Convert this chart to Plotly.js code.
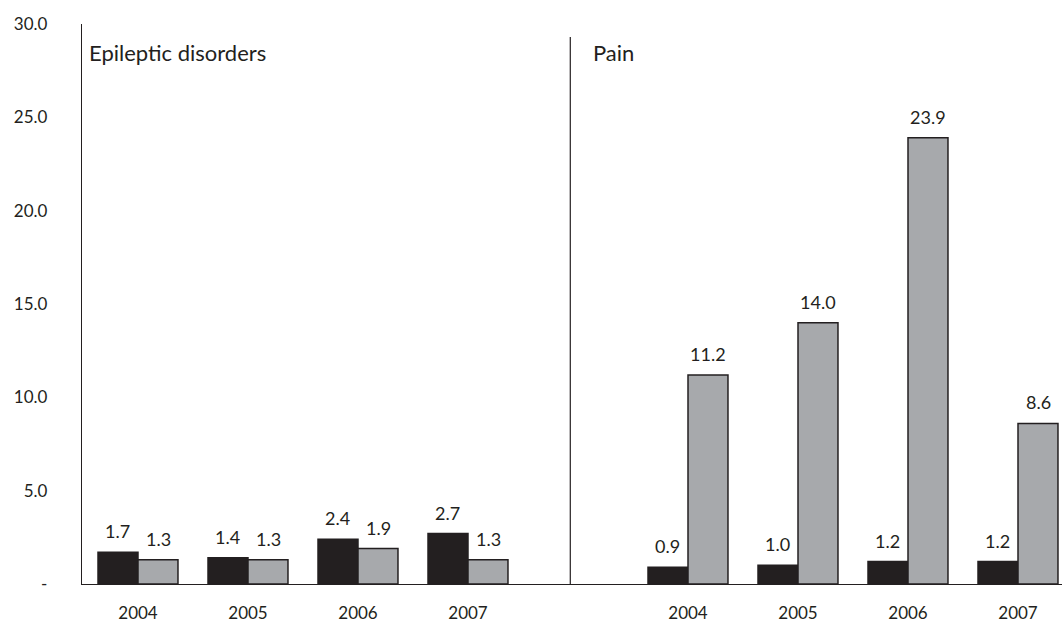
<!DOCTYPE html>
<html>
<head>
<meta charset="utf-8">
<script src="https://cdn.plot.ly/plotly-3.0.1.min.js"></script>
<style>
  html, body { margin: 0; padding: 0; background: #ffffff; }
  #chart { width: 1064px; height: 623px; }
</style>
</head>
<body>
<div id="chart"></div>
<script>
// Years shown under each panel
const years = ['2004', '2005', '2006', '2007'];

// Epileptic disorders panel
const epilepticDark = [1.7, 1.4, 2.4, 2.7];
const epilepticGrey = [1.3, 1.3, 1.9, 1.3];

// Pain panel
const painDark = [0.9, 1.0, 1.2, 1.2];
const painGrey = [11.2, 14.0, 23.9, 8.6];

// Y axis tick labels
const yTickVals = [0, 5, 10, 15, 20, 25, 30];
const yTickText = ['-', '5.0', '10.0', '15.0', '20.0', '25.0', '30.0'];

// Panel titles
const panelTitles = ['Epileptic disorders', 'Pain'];

const DARK = '#231f20';
const GREY = '#a7a9ac';
const FONT = 'Lato, "Open Sans", sans-serif';

// Left panel sits on slots 0..3, right panel on 5..8 (slot 4 left empty)
const leftPos = years.map((_, i) => i);
const rightPos = years.map((_, i) => i + 5);
const positions = leftPos.concat(rightPos);
const darkVals = epilepticDark.concat(painDark);
const greyVals = epilepticGrey.concat(painGrey);

const barLine = { color: DARK, width: 1.5 };

const traces = [
  {
    type: 'bar', x: positions, y: darkVals, name: 'dark',
    marker: { color: DARK, line: barLine },
    hoverinfo: 'y'
  },
  {
    type: 'bar', x: positions, y: greyVals, name: 'grey',
    marker: { color: GREY, line: barLine },
    hoverinfo: 'y'
  }
];

const BAR_OFFSET = 0.182;
const annotations = [];
positions.forEach((p, i) => {
  annotations.push({
    x: p - BAR_OFFSET, y: darkVals[i], xref: 'x', yref: 'y',
    text: darkVals[i].toFixed(1), showarrow: false,
    yanchor: 'middle', yshift: 21,
    font: { family: FONT, size: 18, color: DARK }
  });
  annotations.push({
    x: p + BAR_OFFSET, y: greyVals[i], xref: 'x', yref: 'y',
    text: greyVals[i].toFixed(1), showarrow: false,
    yanchor: 'middle', yshift: 21,
    font: { family: FONT, size: 18, color: DARK }
  });
});

annotations.push({
  x: 0.005, y: 0.95, xref: 'paper', yref: 'paper',
  text: panelTitles[0], showarrow: false, xanchor: 'left', yanchor: 'middle',
  font: { family: FONT, size: 22, color: DARK }
});
annotations.push({
  x: 0.519, y: 0.95, xref: 'paper', yref: 'paper',
  text: panelTitles[1], showarrow: false, xanchor: 'left', yanchor: 'middle',
  font: { family: FONT, size: 22, color: DARK }
});

const layout = {
  width: 1064,
  height: 623,
  margin: { l: 82, r: 2, t: 24, b: 39 },
  paper_bgcolor: '#ffffff',
  plot_bgcolor: '#ffffff',
  showlegend: false,
  barmode: 'group',
  bargap: 0.273,
  bargroupgap: 0,
  font: { family: FONT, color: DARK },
  xaxis: {
    type: 'linear',
    range: [-0.509, 8.4],
    tickvals: positions,
    ticktext: years.concat(years),
    ticks: 'outside', ticklen: 13, tickcolor: 'rgba(0,0,0,0)',
    showgrid: false, zeroline: false,
    showline: true, linecolor: DARK, linewidth: 1.2,
    tickfont: { family: FONT, size: 17, color: DARK },
    fixedrange: true
  },
  yaxis: {
    range: [0, 30],
    tickvals: yTickVals,
    ticktext: yTickText,
    ticks: 'outside', ticklen: 30, tickcolor: 'rgba(0,0,0,0)',
    showgrid: false, zeroline: false,
    showline: true, linecolor: DARK, linewidth: 1.2,
    tickfont: { family: FONT, size: 17, color: DARK },
    fixedrange: true
  },
  shapes: [
    {
      type: 'line', xref: 'x', yref: 'y',
      x0: 3.93, x1: 3.93, y0: 0, y1: 29.3,
      line: { color: DARK, width: 1.2 }
    }
  ],
  annotations: annotations
};

Plotly.newPlot('chart', traces, layout, { displayModeBar: false, staticPlot: true });
</script>
</body>
</html>
